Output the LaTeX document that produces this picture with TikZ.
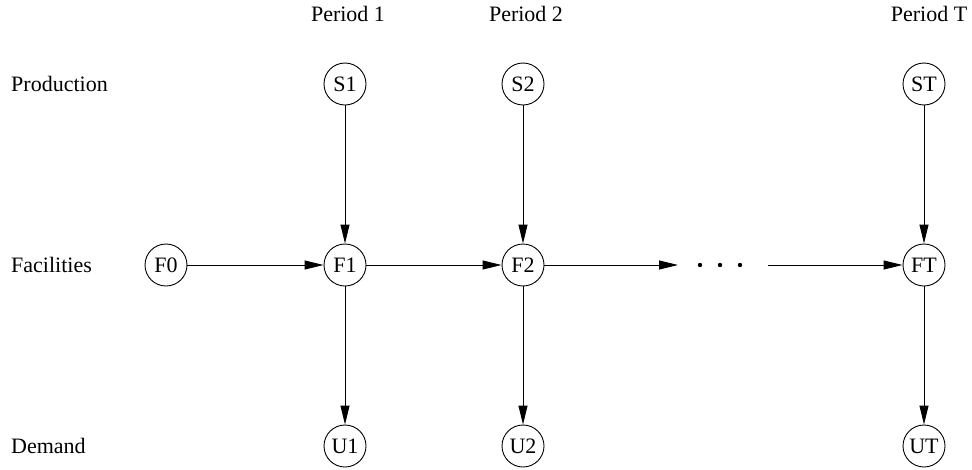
\documentclass[tikz,border=0pt]{standalone}
\usepackage{fontspec}
\setmainfont{Liberation Serif}
\usetikzlibrary{arrows.meta}
\tikzset{
  state/.style={circle, draw, line width=0.9pt, minimum size=42pt, inner sep=0pt},
  flow/.style={line width=0.9pt, -{Triangle[length=19pt,width=9pt]}},
  rowlabel/.style={anchor=west, inner sep=0pt},
  collabel/.style={inner sep=0pt},
  dot/.style={circle, fill, inner sep=0pt, minimum size=4.4pt}
}
\begin{document}
\begin{tikzpicture}[x=1pt, y=-1pt, font=\fontsize{22}{26}\selectfont]
  \useasboundingbox (0,0) rectangle (972,469);

  % column headings
  \node[collabel] (p1) at (348,14) {Period 1};
  \node[collabel] (p2) at (526,14) {Period 2};
  \node[collabel] (pT) at (929,14) {Period T};

  % row headings
  \node[rowlabel] (lprod) at (11,84) {Production};
  \node[rowlabel] (lfac) at (11,265) {Facilities};
  \node[rowlabel] (ldem) at (11,446) {Demand};

  % production nodes
  \node[state] (S1) at (345,84) {S1};
  \node[state] (S2) at (523,84) {S2};
  \node[state] (ST) at (924,84) {ST};

  % facility nodes
  \node[state] (F0) at (166,265) {F0};
  \node[state] (F1) at (345,265) {F1};
  \node[state] (F2) at (523,265) {F2};
  \node[state] (FT) at (924,265) {FT};

  % demand nodes
  \node[state] (U1) at (345,446) {U1};
  \node[state] (U2) at (523,446) {U2};
  \node[state] (UT) at (924,446) {UT};

  % intermediate periods
  \coordinate (gapin) at (678,265);
  \coordinate (gapout) at (768,265);
  \node[dot] (d1) at (700,265) {};
  \node[dot] (d2) at (720,265) {};
  \node[dot] (d3) at (740,265) {};

  % flows
  \draw[flow] (S1) -- (F1);
  \draw[flow] (S2) -- (F2);
  \draw[flow] (ST) -- (FT);
  \draw[flow] (F0) -- (F1);
  \draw[flow] (F1) -- (F2);
  \draw[flow] (F2) -- (gapin);
  \draw[flow] (gapout) -- (FT);
  \draw[flow] (F1) -- (U1);
  \draw[flow] (F2) -- (U2);
  \draw[flow] (FT) -- (UT);
\end{tikzpicture}
\end{document}
